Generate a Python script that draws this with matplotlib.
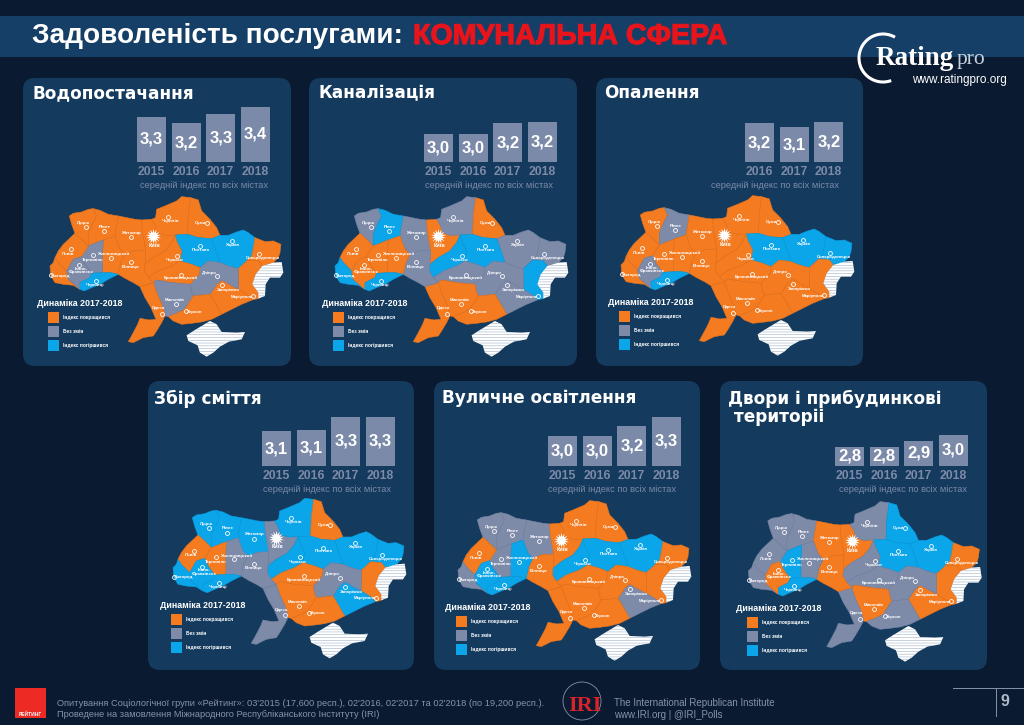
import matplotlib
matplotlib.use("Agg")
import matplotlib.pyplot as plt
import matplotlib.patheffects as pe
from matplotlib.patches import FancyBboxPatch, Arc, Circle

# colours
bg_color = "#0a1a30"
panel_color = "#143a5e"
orange = "#f47b20"
grey = "#7d8aa8"
blue = "#0ba5ea"
status_colors = {"O": orange, "G": grey, "B": blue}
status_edges = {"O": "#e8741d", "G": "#7784a2", "B": "#0a9ddf"}

sans = "Liberation Sans"
plt.rcParams["hatch.linewidth"] = 0.4

# data
titles = ["Водопостачання", "Каналізація", "Опалення", "Збір сміття", "Вуличне освітлення", "Двори і прибудинкові\n територіі"]
years = [
    ["2015", "2016", "2017", "2018"],
    ["2015", "2016", "2017", "2018"],
    ["2016", "2017", "2018"],
    ["2015", "2016", "2017", "2018"],
    ["2015", "2016", "2017", "2018"],
    ["2015", "2016", "2017", "2018"],
]
bar_values = [
    [3.25, 3.15, 3.30, 3.42],
    [2.97, 2.97, 3.15, 3.17],
    [3.15, 3.08, 3.17],
    [3.08, 3.10, 3.32, 3.32],
    [3.00, 3.00, 3.17, 3.32],
    [2.82, 2.82, 2.92, 3.02],
]
bar_labels = [
    ["3,3", "3,2", "3,3", "3,4"],
    ["3,0", "3,0", "3,2", "3,2"],
    ["3,2", "3,1", "3,2"],
    ["3,1", "3,1", "3,3", "3,3"],
    ["3,0", "3,0", "3,2", "3,3"],
    ["2,8", "2,8", "2,9", "3,0"],
]
legend_labels = ["Індекс покращився", "Без змін", "Індекс погіршився"]

# order of oblasts in the status strings below
oblasts = ["Volyn", "Rivne", "Zhytomyr", "Kyiv", "Chernihiv", "Sumy", "Kharkiv", "Poltava", "Cherkasy",
           "Luhansk", "Donetsk", "Zaporizhzhia", "Dnipro", "Kirovohrad", "Mykolaiv", "Kherson", "Odesa",
           "Vinnytsia", "Khmelnytskyi", "Ternopil", "Lviv", "Zakarpattia", "Ivano", "Chernivtsi"]
status = [
    "OOOOOOBBOOOOGOGOOOOGOOGB",
    "GBGOGOGBBGBGGGOOOGOOOBOB",
    "OGOOOOBBOBOOOOOOOOOOOOGB",
    "BBBGBOBBBBOBGOOOGGGOOBBB",
    "GGGOOOBBBOOGOOOOOOBGOGBB",
    "GGOOGBBBGOOOGGOGGOGBGGOB",
]

# oblast outlines at 3x, Kyiv city sits at (385, 487)
shapes = {
    "Volyn": [(133,420),(145,412),(170,408),(190,400),(205,398),(215,420),(200,450),(190,475),(190,510),(170,490),(150,472),(140,445)],
    "Rivne": [(205,398),(225,403),(250,415),(280,420),(275,450),(270,480),(235,492),(190,510),(190,475),(200,450),(215,420)],
    "Zhytomyr": [(280,420),(305,425),(330,430),(350,432),(352,465),(362,522),(328,524),(300,535),(285,520),(270,480),(275,450)],
    "Kyiv": [(350,432),(380,430),(392,450),(398,470),(420,478),(450,477),(440,500),(420,525),(385,545),(360,565),(362,522),(352,465)],
    "Chernihiv": [(380,430),(392,425),(395,400),(420,390),(455,375),(470,362),(497,365),(490,420),(488,475),(450,477),(420,478),(398,470),(392,450)],
    "Sumy": [(497,365),(520,372),(530,405),(555,430),(575,455),(585,478),(560,488),(520,485),(488,475),(490,420)],
    "Kharkiv": [(585,478),(610,478),(635,468),(655,462),(670,470),(690,485),(685,515),(680,540),(668,552),(660,560),(640,578),(610,570),(585,560),(575,530),(560,488)],
    "Poltava": [(450,477),(488,475),(520,485),(560,488),(575,530),(585,560),(550,555),(525,575),(500,565),(465,555),(470,525),(455,495)],
    "Cherkasy": [(440,500),(450,477),(455,495),(470,525),(465,555),(440,570),(400,585),(370,605),(358,585),(360,565),(385,545),(420,525)],
    "Luhansk": [(690,485),(720,497),(745,495),(768,505),(765,530),(760,545),(745,560),(712,570),(700,555),(668,552),(680,540),(685,515)],
    "Donetsk": [(640,578),(660,560),(668,552),(700,555),(712,570),(692,595),(682,625),(700,650),(700,668),(682,672),(672,660),(640,640),(640,610)],
    "Zaporizhzhia": [(555,655),(575,625),(590,612),(640,640),(672,660),(682,672),(650,685),(620,700),(590,715),(570,680)],
    "Dnipro": [(495,625),(522,595),(525,575),(550,555),(585,560),(610,570),(640,578),(640,610),(640,640),(590,612),(575,625),(555,655),(505,660),(500,650)],
    "Kirovohrad": [(370,605),(400,585),(440,570),(465,555),(500,565),(525,575),(522,595),(495,625),(440,620),(395,612),(385,620)],
    "Mykolaiv": [(385,620),(395,612),(440,620),(495,625),(500,650),(505,660),(480,700),(460,710),(430,722),(420,720),(415,695),(395,650)],
    "Kherson": [(505,660),(555,655),(570,680),(590,715),(560,730),(530,738),(500,742),(470,745),(445,735),(430,722),(460,710),(480,700)],
    "Odesa": [(345,632),(385,620),(395,650),(415,695),(420,720),(410,740),(395,765),(385,780),(355,785),(325,800),(310,797),(325,770),(338,745),(345,727),(372,732),(393,730),(378,695),(360,665)],
    "Vinnytsia": [(300,535),(328,524),(362,522),(360,565),(358,585),(370,605),(385,620),(345,632),(325,620),(300,607),(280,595),(287,560)],
    "Khmelnytskyi": [(235,492),(270,480),(285,520),(300,535),(287,560),(280,595),(258,590),(233,590),(232,540)],
    "Ternopil": [(190,510),(235,492),(232,540),(233,590),(200,592),(180,565),(170,542)],
    "Lviv": [(150,472),(170,490),(190,510),(170,542),(145,550),(125,585),(100,560),(90,545),(100,525),(115,505)],
    "Zakarpattia": [(85,560),(90,545),(100,560),(125,585),(130,610),(165,640),(145,628),(115,625),(90,620),(78,600),(75,570)],
    "Ivano": [(125,585),(145,550),(170,542),(180,565),(200,592),(195,605),(165,620),(165,640),(130,610)],
    "Chernivtsi": [(165,640),(165,620),(195,605),(200,592),(233,590),(258,590),(280,595),(250,610),(225,625),(200,635),(178,645)],
}
donbas = [(712,570),(745,560),(770,558),(775,590),(765,605),(735,605),(722,625),(720,660),(700,668),(700,650),(682,625),(692,595)]
crimea = [(485,778),(510,762),(530,750),(555,735),(575,745),(590,768),(635,770),(660,768),(650,790),(612,797),(585,812),(565,830),(545,842),(525,830),(518,808),(490,795)]

# city name, marker x, marker y, label x, label y (same 3x coordinates)
cities = [
    ("Луцьк", 183, 452, 172, 440), ("Рівне", 237, 465, 240, 452), ("Житомир", 317, 483, 318, 470),
    ("Чернігів", 430, 422, 438, 434), ("Суми", 546, 442, 526, 442), ("Харків", 622, 495, 623, 508),
    ("Полтава", 524, 510, 527, 521), ("Черкаси", 456, 539, 450, 552), ("Вінниця", 318, 558, 318, 572),
    ("Хмельницький", 258, 545, 268, 535), ("Тернопіль", 205, 537, 205, 552), ("Львів", 137, 520, 127, 533),
    ("Івано-\nФранківськ", 163, 567, 168, 584), ("Ужгород", 78, 598, 105, 599), ("Чернівці", 213, 615, 210, 627),
    ("Кропивницький", 467, 596, 467, 607), ("Дніпро", 575, 600, 553, 590), ("Запоріжжя", 590, 627, 610, 642),
    ("Маріуполь", 683, 660, 650, 662), ("Сєвєродонецьк", 702, 533, 715, 545), ("Миколаїв", 453, 685, 450, 673),
    ("Одеса", 411, 713, 400, 697), ("Херсон", 484, 706, 510, 707),
]

# layout in reference pixels
panels = [(23,78,291,366), (309,78,577,366), (596,78,863,366), (148,381,414,670), (434,381,700,670), (720,381,987,670)]
title_pos = [(33,93), (318,93), (604,93), (154,399), (442,398), (728,408)]
kyiv_pos = [(153.3,238.3), (438.3,238.3), (724.3,237.3), (276.3,540), (561.3,542.3), (851.7,543.3)]
bar_left = [137, 424, 745, 262, 548, 835]
bar_base = [162, 162, 162, 466, 466, 466]
bar_step = 34.6
bar_width = 29.0
px_per_unit = 60
y_floor = 2.5

fig = plt.figure(figsize=(10.24, 7.25), dpi=100, facecolor=bg_color)
ax = fig.add_axes([0, 0, 1, 1])
ax.set_xlim(0, 1024)
ax.set_ylim(725, 0)
ax.axis("off")

# header band
ax.fill_between([0, 1024], 16, 57, color="#153f66", lw=0)
ax.text(32, 36, "Задоволеність послугами:", color="white", fontsize=20.2, fontweight="bold", family=sans, va="center")
ax.text(413, 36, "КОМУНАЛЬНА СФЕРА", color="#e8141c", fontsize=20.6, fontweight="bold", family=sans, va="center",
        path_effects=[pe.withStroke(linewidth=0.8, foreground="#e8141c")])

# logo
ax.add_patch(Arc((883, 58), 48, 48, theta1=70, theta2=300, color="white", lw=2.2))
ax.text(876, 58, "Rating", color="white", fontsize=19.5, fontweight="bold", family="Liberation Serif", va="center")
ax.text(957, 59, "pro", color="#c6d2de", fontsize=15.5, family="Liberation Serif", va="center")
ax.text(912, 80, "www.ratingpro.org", color="white", fontsize=8.5, family=sans, va="center")

for p in range(6):
    x0, y0, x1, y1 = panels[p]
    ax.add_patch(FancyBboxPatch((x0+10, y0+10), x1-x0-20, y1-y0-20, boxstyle="round,pad=10,rounding_size=12",
                                fc=panel_color, ec="none"))
    tx, ty = title_pos[p]
    ax.text(tx, ty, titles[p], color="white", fontsize=12.2, fontweight="bold", family="DejaVu Sans",
            va="center", linespacing=0.95)

    kx, ky = kyiv_pos[p]
    def to_px(pts):
        return [kx + (a - 385) / 3 for a, b in pts], [ky + (b - 487) / 3 for a, b in pts]

    # map
    for name, code in zip(oblasts, status[p]):
        xs, ys = to_px(shapes[name])
        ax.fill(xs, ys, fc=status_colors[code], ec=status_edges[code], lw=0.4, zorder=3)
    for outline in [donbas, crimea]:
        xs, ys = to_px(outline)
        ax.fill(xs, ys, fc="white", ec="#9db1c6", lw=0, hatch="------", zorder=4)
    for name, mx, my, lx, ly in cities:
        xs, ys = to_px([(mx, my), (lx, ly)])
        ax.plot(xs[0], ys[0], "o", ms=2.8, mfc="none", mec="white", mew=0.6, zorder=5)
        ax.text(xs[1], ys[1], name, color="white", fontsize=3.2, fontweight="bold", family=sans,
                ha="center", va="center", linespacing=0.9, zorder=5)
    ax.plot(kx, ky - 2, marker=(14, 1, 0), ms=11, color="white", mew=0, zorder=5)
    ax.text(kx + 1, ky + 7, "Київ", color="white", fontsize=4, fontweight="bold", family=sans,
            ha="center", va="center", zorder=6)

    # legend
    ax.text(kx - 116, ky + 65, "Динаміка 2017-2018", color="white", fontsize=6.4, fontweight="bold", family=sans, va="center")
    for i, (lab, col) in enumerate(zip(legend_labels, [orange, grey, blue])):
        sq_y = ky + 74 + i * 14
        ax.fill_between([kx - 105, kx - 94], sq_y, sq_y + 11, color=col, lw=0)
        ax.text(kx - 90, sq_y + 5.5, lab, color="white", fontsize=3.5, fontweight="bold", family=sans, va="center")

    # bars
    n = len(bar_values[p])
    left = bar_left[p] - (bar_step - bar_width) / 2
    base = bar_base[p]
    sub = fig.add_axes([left / 1024, 1 - base / 725, n * bar_step / 1024, px_per_unit / 725])
    sub.patch.set_alpha(0)
    sub.bar(range(n), bar_values[p], width=bar_width / bar_step, color="#7c8aa9")
    sub.set_xlim(-0.5, n - 0.5)
    sub.set_ylim(y_floor, y_floor + 1)
    sub.set_yticks([])
    sub.set_xticks(range(n), years[p], color=grey, fontsize=8.8, fontweight="bold", family=sans)
    sub.tick_params(axis="x", length=0, pad=3)
    for s in sub.spines.values():
        s.set_visible(False)
    for i in range(n):
        sub.text(i, (y_floor + bar_values[p][i]) / 2, bar_labels[p][i], color="white", fontsize=12,
                 fontweight="bold", family=sans, ha="center", va="center")
    ax.text(kx + 51, base + 23, "середній індекс по всіх містах", color=grey, fontsize=6.7, family=sans,
            ha="center", va="center")

# footer
ax.fill_between([15, 46], 688, 718, color="#ee2a24", lw=0)
ax.text(30.5, 714, "РЕЙТИНГ", color="white", fontsize=3.5, fontweight="bold", family=sans, ha="center", va="center")
foot_color = "#8793a6"
ax.text(57, 703, "Опитування Соціологічної групи «Рейтинг»: 03'2015 (17,600 респ.), 02'2016, 02'2017 та 02'2018 (по 19,200 респ.).",
        color=foot_color, fontsize=6.7, family=sans, va="center")
ax.text(57, 714.5, "Проведене на замовлення Міжнародного Республіканського Інституту (IRI)",
        color=foot_color, fontsize=6.7, family=sans, va="center")
ax.add_patch(Circle((582, 701), 19, fc="none", ec="#8793a6", lw=0.6))
ax.text(585, 706, "IRI", color="#d8232a", fontsize=16, fontweight="bold", family="Liberation Serif", ha="center", va="center")
ax.text(614, 703, "The International Republican Institute", color=foot_color, fontsize=7, family=sans, va="center")
ax.text(614, 714.5, "www.IRI.org | @IRI_Polls", color=foot_color, fontsize=7, family=sans, va="center")
ax.plot([953, 1024], [688, 688], color="#8793a6", lw=0.7)
ax.plot([996, 996], [688, 716], color="#8793a6", lw=0.7)
ax.text(1005, 702, "9", color="#aeb8c6", fontsize=11.5, fontweight="bold", family=sans, ha="center", va="center")

fig.savefig("out.png", dpi=100, facecolor=bg_color)
